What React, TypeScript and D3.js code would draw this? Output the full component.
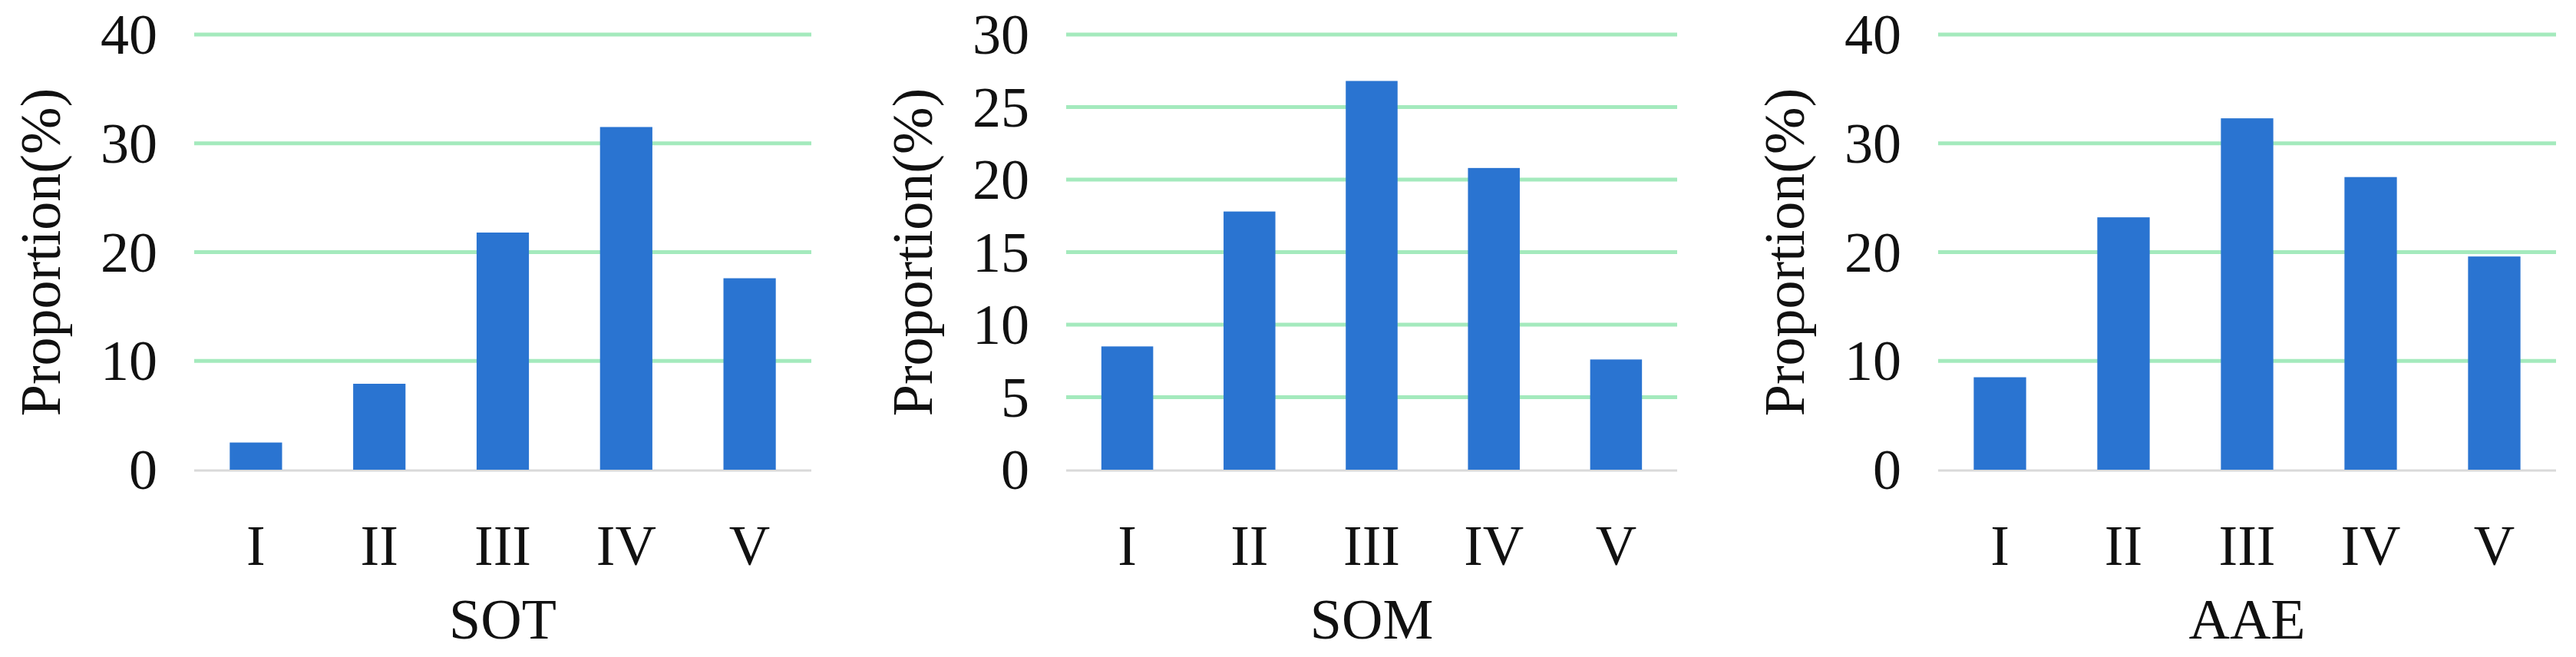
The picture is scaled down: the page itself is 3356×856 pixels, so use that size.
import * as d3 from "d3";
import { useEffect } from "react";

const categories = ["I", "II", "III", "IV", "V"];
const sotValues = [2.5, 7.9, 21.8, 31.5, 17.6];
const somValues = [8.5, 17.8, 26.8, 20.8, 7.6];
const aaeValues = [8.5, 23.2, 32.3, 26.9, 19.6];
const sotTicks = [0, 10, 20, 30, 40];
const somTicks = [0, 5, 10, 15, 20, 25, 30];
const aaeTicks = [0, 10, 20, 30, 40];

const W = 3356;
const H = 856;
const top = 45;
const bottom = 612;
const font = "'Liberation Serif', 'Times New Roman', serif";
const fs = 74;

type PanelProps = {
  title: string;
  values: number[];
  ticks: number[];
  x0: number;
  x1: number;
};

function Panel({ title, values, ticks, x0, x1 }: PanelProps) {
  const x = d3.scaleBand().domain(categories).range([x0, x1]).paddingInner(0.576).paddingOuter(0.288);
  const y = d3.scaleLinear().domain([0, d3.max(ticks)!]).range([bottom, top]);
  const mid = (x0 + x1) / 2;

  return (
    <g>
      {/* gridlines */}
      {ticks.filter(t => t > 0).map(t => (
        <line key={t} x1={x0} x2={x1} y1={y(t)} y2={y(t)} stroke="#a4eabd" strokeWidth={5} />
      ))}
      <line x1={x0} x2={x1} y1={y(0) + 1} y2={y(0) + 1} stroke="#d9d9d9" strokeWidth={3} />

      {values.map((v, i) => (
        <rect
          key={categories[i]}
          x={x(categories[i])}
          width={x.bandwidth()}
          y={y(v)}
          height={y(0) - y(v)}
          fill="#2a74d1"
        />
      ))}

      {ticks.map(t => (
        <text key={t} x={x0 - 48} y={y(t)} dy="0.34em" textAnchor="end" fontSize={fs} fontFamily={font} fill="#111">
          {t}
        </text>
      ))}

      {categories.map(c => (
        <text key={c} x={x(c)! + x.bandwidth() / 2} y={736} textAnchor="middle" fontSize={fs} fontFamily={font} fill="#111">
          {c}
        </text>
      ))}

      <text x={mid} y={832} textAnchor="middle" fontSize={fs} fontFamily={font} fill="#111">
        {title}
      </text>

      <text
        transform={`translate(${x0 - 175}, ${(top + bottom) / 2}) rotate(-90)`}
        textAnchor="middle"
        fontSize={fs}
        fontFamily={font}
        fill="#111"
      >
        Proportion(%)
      </text>
    </g>
  );
}

export default function App() {
  useEffect(() => {
    document.body.style.margin = "0";
  }, []);

  return (
    <svg width={W} height={H} style={{ display: "block", background: "#fff" }}>
      <rect width={W} height={H} fill="#fff" />
      <Panel title="SOT" values={sotValues} ticks={sotTicks} x0={253} x1={1057} />
      <Panel title="SOM" values={somValues} ticks={somTicks} x0={1389} x1={2185} />
      <Panel title="AAE" values={aaeValues} ticks={aaeTicks} x0={2525} x1={3330} />
    </svg>
  );
}
